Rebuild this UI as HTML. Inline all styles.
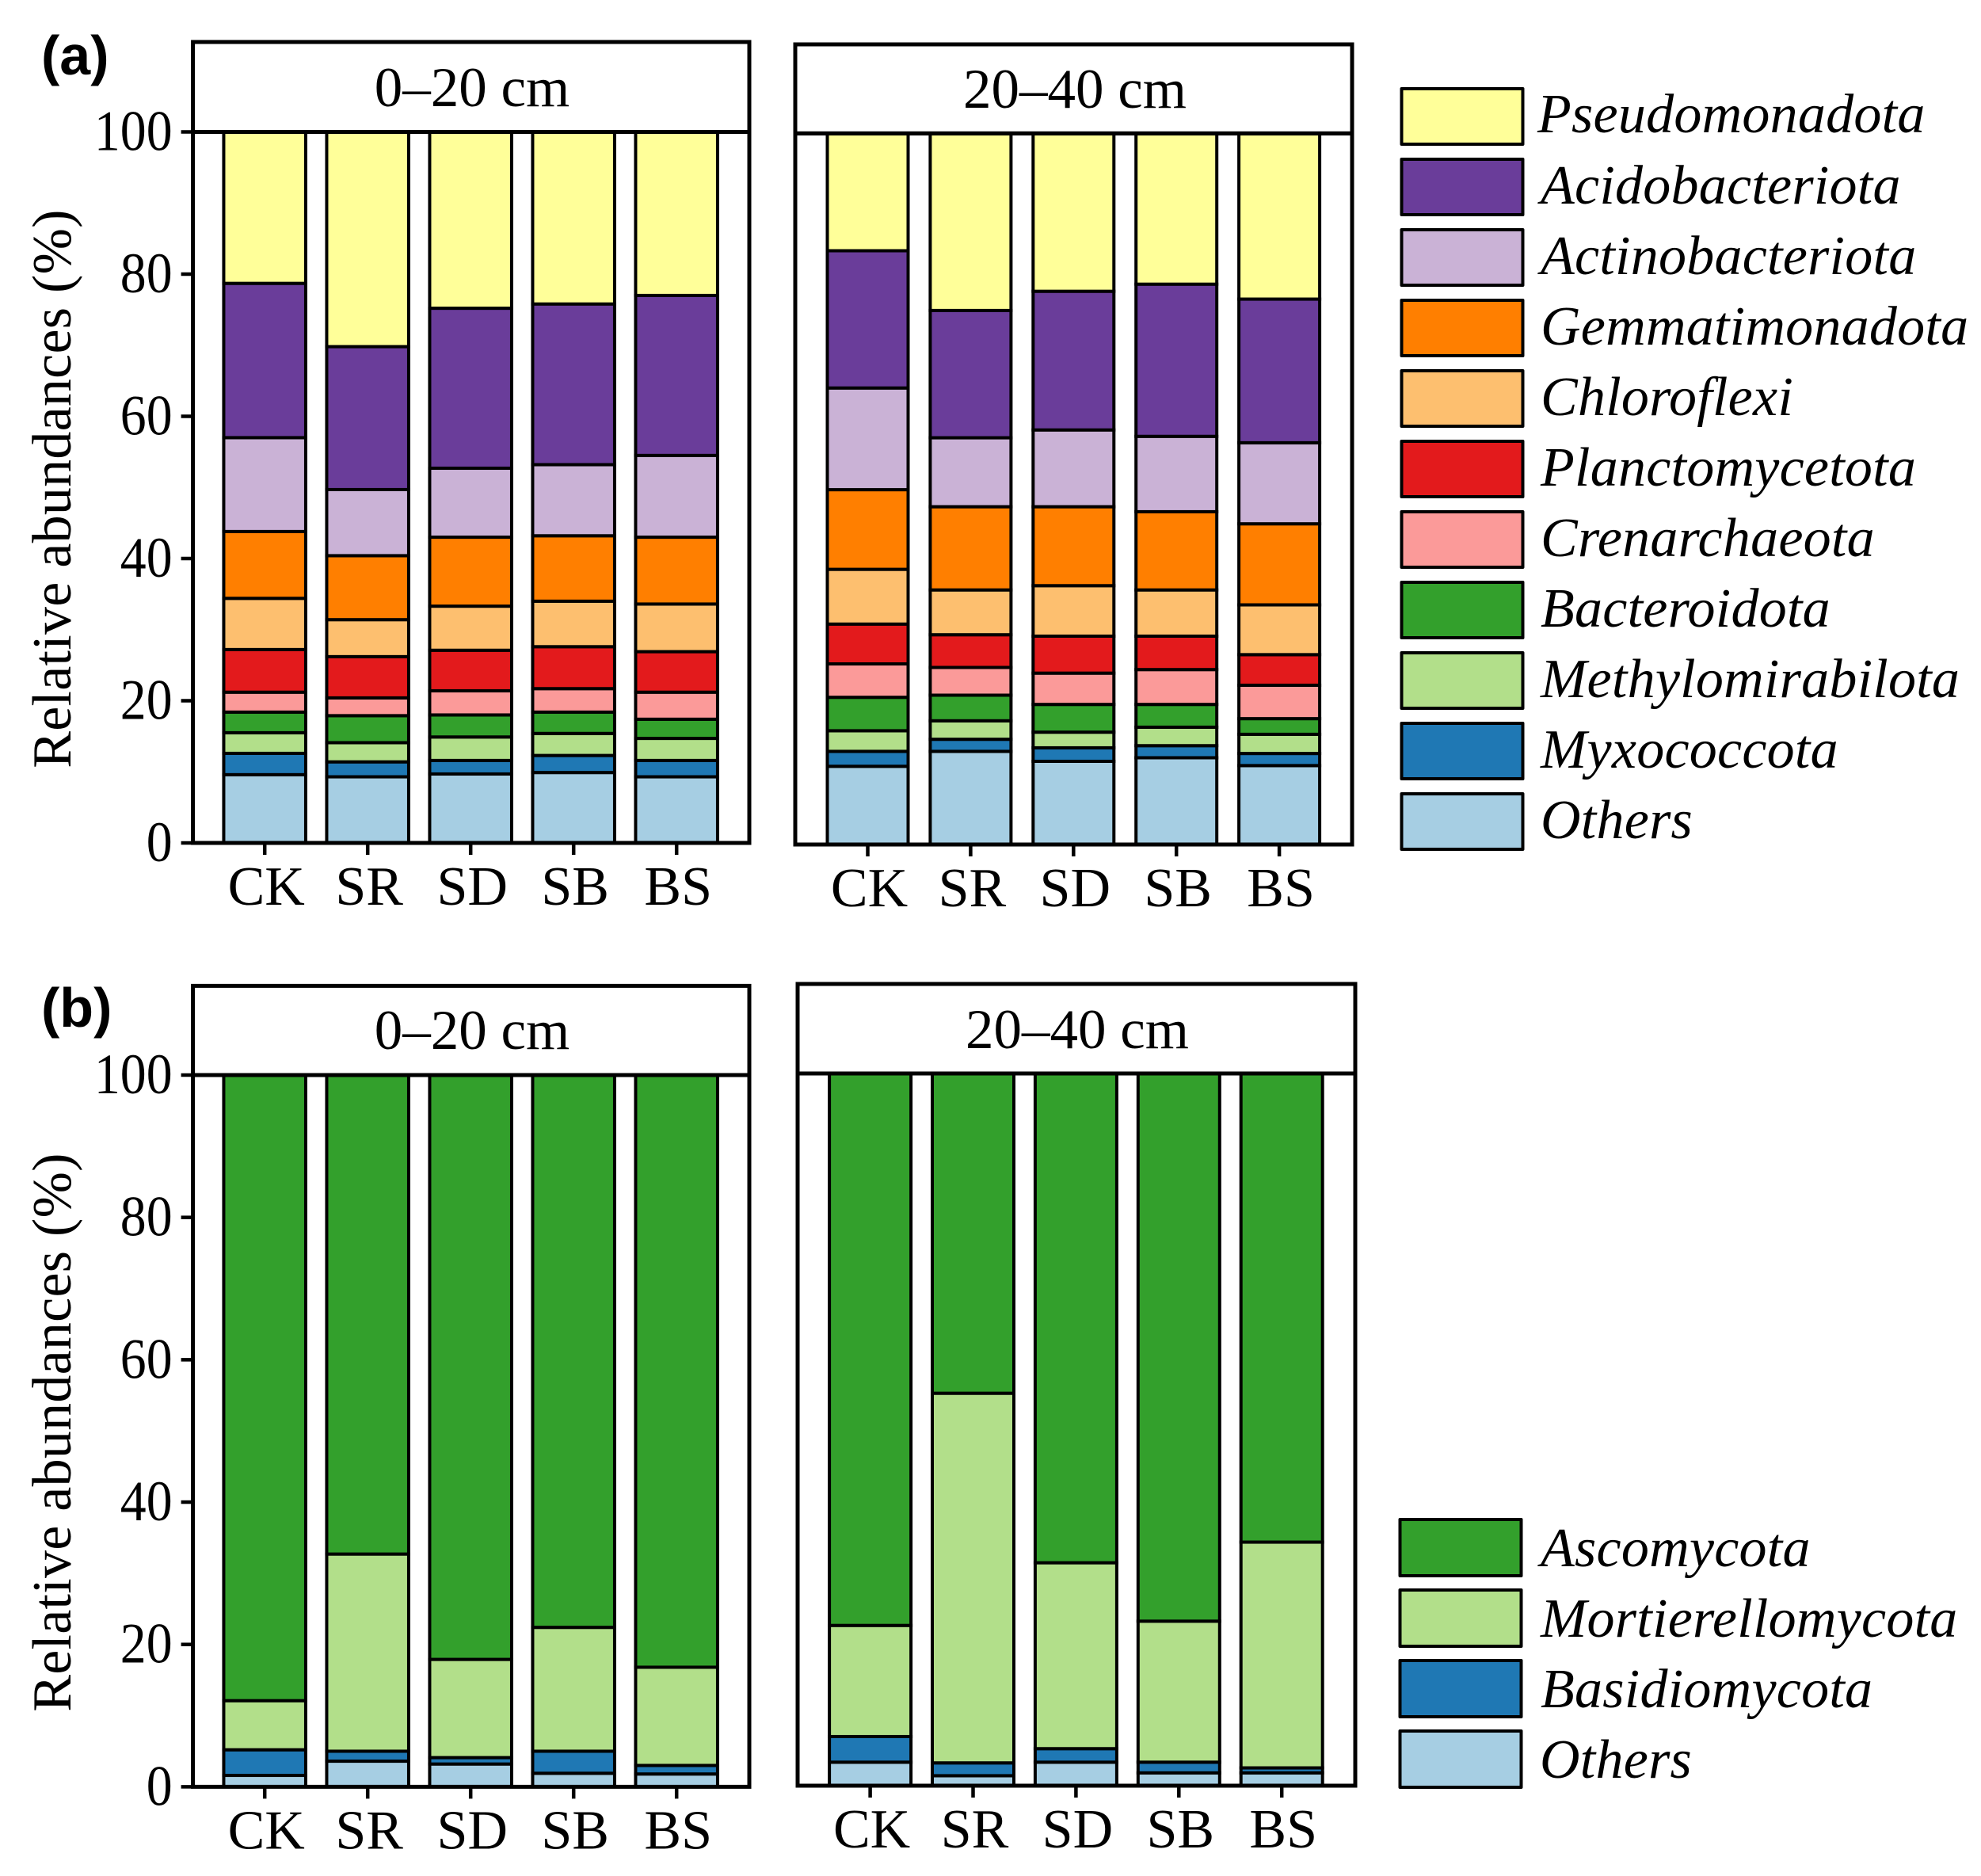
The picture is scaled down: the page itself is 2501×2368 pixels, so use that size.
<!DOCTYPE html>
<html lang="en">
<head>
<meta charset="utf-8">
<title>Relative abundances of bacterial and fungal phyla</title>
<style>
html,body{margin:0;padding:0;background:#fff;}
svg{display:block;}
text{font-family:"Liberation Serif",serif;font-size:70px;fill:#000;}
.tag{font-family:"Liberation Sans",sans-serif;font-weight:700;font-size:70px;}
.leg{font-style:italic;letter-spacing:.25px;}
.strip{text-anchor:middle;font-size:71px;}
.ytitle{letter-spacing:.25px;}
</style>
</head>
<body>
<svg id="chart" xmlns="http://www.w3.org/2000/svg" width="2501" height="2368" viewBox="0 0 2501 2368">
  <rect x="0" y="0" width="2501" height="2368" fill="#fff"/>

  <text class="tag" x="52" y="94">(a)</text>
  <text class="tag" x="52" y="1296">(b)</text>

  <text class="ytitle" text-anchor="middle" transform="translate(89,617) rotate(-90)">Relative abundances (%)</text>
  <text class="ytitle" text-anchor="middle" transform="translate(89,1808) rotate(-90)">Relative abundances (%)</text>

  <g id="panel-a1"></g>
  <g id="panel-a2"></g>
  <g id="panel-b1"></g>
  <g id="panel-b2"></g>

  <text class="strip" x="596" y="134">0–20 cm</text>
  <text class="strip" x="1357" y="136">20–40 cm</text>
  <text class="strip" x="596" y="1324">0–20 cm</text>
  <text class="strip" x="1360" y="1323">20–40 cm</text>

  <g stroke-linejoin="round">
    <g><rect x="1769.5" y="112" width="153" height="70" fill="#FFFF99" stroke="#000" stroke-width="4"/><text class="leg" x="1941" y="167">Pseudomonadota</text></g>
    <g><rect x="1769.5" y="201" width="153" height="70" fill="#6A3D9A" stroke="#000" stroke-width="4"/><text class="leg" x="1945" y="257">Acidobacteriota</text></g>
    <g><rect x="1769.5" y="290" width="153" height="70" fill="#CAB2D6" stroke="#000" stroke-width="4"/><text class="leg" x="1945" y="346">Actinobacteriota</text></g>
    <g><rect x="1769.5" y="379" width="153" height="70" fill="#FF7F00" stroke="#000" stroke-width="4"/><text class="leg" x="1945" y="435">Gemmatimonadota</text></g>
    <g><rect x="1769.5" y="468" width="153" height="70" fill="#FDBF6F" stroke="#000" stroke-width="4"/><text class="leg" x="1945" y="524">Chloroflexi</text></g>
    <g><rect x="1769.5" y="557" width="153" height="70" fill="#E31A1C" stroke="#000" stroke-width="4"/><text class="leg" x="1945" y="613">Planctomycetota</text></g>
    <g><rect x="1769.5" y="646" width="153" height="70" fill="#FB9A99" stroke="#000" stroke-width="4"/><text class="leg" x="1945" y="702">Crenarchaeota</text></g>
    <g><rect x="1769.5" y="735" width="153" height="70" fill="#33A02C" stroke="#000" stroke-width="4"/><text class="leg" x="1945" y="791">Bacteroidota</text></g>
    <g><rect x="1769.5" y="824" width="153" height="70" fill="#B2DF8A" stroke="#000" stroke-width="4"/><text class="leg" x="1945" y="880">Methylomirabilota</text></g>
    <g><rect x="1769.5" y="913" width="153" height="70" fill="#1F78B4" stroke="#000" stroke-width="4"/><text class="leg" x="1945" y="969">Myxococcota</text></g>
    <g><rect x="1769.5" y="1002" width="153" height="70" fill="#A6CEE3" stroke="#000" stroke-width="4"/><text class="leg" x="1945" y="1058">Others</text></g>
  </g>

  <g stroke-linejoin="round">
    <g><rect x="1767.5" y="1918" width="153" height="71" fill="#33A02C" stroke="#000" stroke-width="4"/><text class="leg" x="1945" y="1977">Ascomycota</text></g>
    <g><rect x="1767.5" y="2007" width="153" height="71" fill="#B2DF8A" stroke="#000" stroke-width="4"/><text class="leg" x="1945" y="2066">Mortierellomycota</text></g>
    <g><rect x="1767.5" y="2096" width="153" height="71" fill="#1F78B4" stroke="#000" stroke-width="4"/><text class="leg" x="1945" y="2155">Basidiomycota</text></g>
    <g><rect x="1767.5" y="2185" width="153" height="71" fill="#A6CEE3" stroke="#000" stroke-width="4"/><text class="leg" x="1944" y="2244">Others</text></g>
  </g>
</svg>

<script>
/* Categories and ticks */
const categories = ['CK', 'SR', 'SD', 'SB', 'BS'];
const yTickLabels = [0, 20, 40, 60, 80, 100];

/* Series names and colours, bottom of stack first */
const bacteriaNames = ['others', 'myxococcota', 'methylomirabilota', 'bacteroidota', 'crenarchaeota', 'planctomycetota', 'chloroflexi', 'gemmatimonadota', 'actinobacteriota', 'acidobacteriota', 'pseudomonadota'];
const bacteriaColors = ['#A6CEE3', '#1F78B4', '#B2DF8A', '#33A02C', '#FB9A99', '#E31A1C', '#FDBF6F', '#FF7F00', '#CAB2D6', '#6A3D9A', '#FFFF99'];
const fungiNames = ['others', 'basidiomycota', 'mortierellomycota', 'ascomycota'];
const fungiColors = ['#A6CEE3', '#1F78B4', '#B2DF8A', '#33A02C'];

/* (a) 0-20 cm, % per treatment */
const a1Others = [9.6, 9.3, 9.7, 9.9, 9.3];
const a1Myxo = [3.0, 2.1, 1.9, 2.4, 2.3];
const a1Methyl = [2.9, 2.7, 3.3, 3.1, 3.1];
const a1Bactero = [2.9, 3.8, 3.1, 3.0, 2.7];
const a1Cren = [2.8, 2.5, 3.4, 3.3, 3.8];
const a1Planc = [6.0, 5.8, 5.7, 5.9, 5.7];
const a1Chloro = [7.2, 5.2, 6.2, 6.4, 6.7];
const a1Gemm = [9.4, 9.0, 9.7, 9.2, 9.4];
const a1Actino = [13.2, 9.3, 9.7, 10.0, 11.5];
const a1Acido = [21.7, 20.1, 22.5, 22.6, 22.5];
const a1Pseudo = [21.3, 30.2, 24.8, 24.2, 23.0];

/* (a) 20-40 cm */
const a2Others = [11.0, 13.1, 11.7, 12.2, 11.1];
const a2Myxo = [2.1, 1.7, 1.9, 1.7, 1.7];
const a2Methyl = [2.9, 2.6, 2.2, 2.6, 2.7];
const a2Bactero = [4.7, 3.6, 3.9, 3.2, 2.2];
const a2Cren = [4.7, 3.9, 4.4, 4.9, 4.7];
const a2Planc = [5.6, 4.6, 5.2, 4.7, 4.3];
const a2Chloro = [7.7, 6.3, 7.1, 6.5, 7.0];
const a2Gemm = [11.2, 11.7, 11.1, 11.0, 11.4];
const a2Actino = [14.3, 9.7, 10.8, 10.6, 11.4];
const a2Acido = [19.3, 17.9, 19.5, 21.4, 20.2];
const a2Pseudo = [16.5, 24.9, 22.2, 21.2, 23.3];

/* (b) 0-20 cm */
const b1Others = [1.6, 3.6, 3.2, 1.9, 1.8];
const b1Basid = [3.6, 1.4, 0.9, 3.1, 1.2];
const b1Mort = [6.9, 27.7, 13.8, 17.4, 13.8];
const b1Asco = [87.9, 67.3, 82.1, 77.6, 83.2];

/* (b) 20-40 cm */
const b2Others = [3.3, 1.4, 3.3, 1.8, 1.8];
const b2Basid = [3.6, 1.8, 1.9, 1.5, 0.7];
const b2Mort = [15.6, 51.9, 26.1, 19.8, 31.7];
const b2Asco = [77.5, 44.9, 68.7, 76.9, 65.8];

const a1Stack = [a1Others, a1Myxo, a1Methyl, a1Bactero, a1Cren, a1Planc, a1Chloro, a1Gemm, a1Actino, a1Acido, a1Pseudo];
const a2Stack = [a2Others, a2Myxo, a2Methyl, a2Bactero, a2Cren, a2Planc, a2Chloro, a2Gemm, a2Actino, a2Acido, a2Pseudo];
const b1Stack = [b1Others, b1Basid, b1Mort, b1Asco];
const b2Stack = [b2Others, b2Basid, b2Mort, b2Asco];

const SVG_NS = 'http://www.w3.org/2000/svg';

function shape(parent, tag, attrs) {
  const node = document.createElementNS(SVG_NS, tag);
  Object.keys(attrs).forEach(function (k) { node.setAttribute(k, attrs[k]); });
  parent.appendChild(node);
  return node;
}

function drawPanel(cfg) {
  const root = document.getElementById(cfg.id);
  const yScale = function (v) { return cfg.y0 - (v / 100) * (cfg.y0 - cfg.y100); };
  const xScale = function (i) { return cfg.cx0 + cfg.dx * i; };

  /* bars */
  categories.forEach(function (cat, i) {
    let running = 0;
    cfg.stack.forEach(function (series, s) {
      const top = yScale(running + series[i]);
      const bottom = yScale(running);
      running += series[i];
      const bar = shape(root, 'rect', {
        x: xScale(i) - cfg.barWidth / 2,
        y: top,
        width: cfg.barWidth,
        height: bottom - top,
        fill: cfg.colors[s],
        stroke: '#000',
        'stroke-width': 4
      });
      
      
    });
  });

  /* strip */
  const strip = shape(root, 'rect', {
    x: cfg.left, y: cfg.top, width: cfg.right - cfg.left, height: cfg.y100 - cfg.top,
    fill: '#fff', stroke: '#000', 'stroke-width': 5
  });
  
  

  /* frame */
  const frame = shape(root, 'rect', {
    x: cfg.left, y: cfg.y100, width: cfg.right - cfg.left, height: cfg.y0 - cfg.y100,
    fill: 'none', stroke: '#000', 'stroke-width': 5
  });
  
  

  /* x axis */
  categories.forEach(function (cat, i) {
    const tick = shape(root, 'line', {
      x1: xScale(i), x2: xScale(i), y1: cfg.y0, y2: cfg.y0 + 15,
      stroke: '#000', 'stroke-width': 4.5
    });
    
    
    const label = shape(root, 'text', {
      x: xScale(i) + 2, y: cfg.y0 + 78, 'text-anchor': 'middle'
    });
    label.textContent = cat;
    
    
  });

  /* y axis, only on the left-hand facets */
  if (cfg.showY) {
    yTickLabels.forEach(function (v) {
      const tick = shape(root, 'line', {
        x1: cfg.left - 15, x2: cfg.left, y1: yScale(v), y2: yScale(v),
        stroke: '#000', 'stroke-width': 4.5
      });
      
      
      const label = shape(root, 'text', {
        'text-anchor': 'end',
        transform: 'translate(' + (cfg.left - 26) + ',' + (yScale(v) + 23) + ') scale(0.94,1.03)'
      });
      label.textContent = String(v);
      
      
    });
  }
}

drawPanel({ id: 'panel-a1', stack: a1Stack, colors: bacteriaColors, names: bacteriaNames, left: 243.6, right: 946, top: 53, y100: 166.5, y0: 1064, cx0: 334.2, dx: 130, barWidth: 103.5, showY: true });
drawPanel({ id: 'panel-a2', stack: a2Stack, colors: bacteriaColors, names: bacteriaNames, left: 1004, right: 1707, top: 56, y100: 168.4, y0: 1066, cx0: 1095.5, dx: 129.9, barWidth: 102, showY: false });
drawPanel({ id: 'panel-b1', stack: b1Stack, colors: fungiColors, names: fungiNames, left: 243.6, right: 946, top: 1244.4, y100: 1357, y0: 2255.4, cx0: 334.2, dx: 130, barWidth: 103.5, showY: true });
drawPanel({ id: 'panel-b2', stack: b2Stack, colors: fungiColors, names: fungiNames, left: 1007, right: 1711, top: 1242, y100: 1355, y0: 2254, cx0: 1098.6, dx: 129.9, barWidth: 103, showY: false });
</script>
</body>
</html>
